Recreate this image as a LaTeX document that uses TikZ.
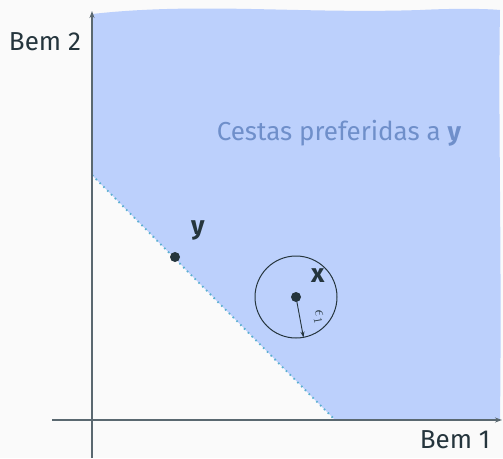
\documentclass[tikz,border=0pt]{standalone}
\usepackage{fontspec}
\setmainfont{Fira Sans}
\usetikzlibrary{arrows.meta}
\definecolor{bg}{HTML}{FAFAFA}
\definecolor{ink}{HTML}{25353D}
\definecolor{axis}{HTML}{5A6870}
\definecolor{pref}{HTML}{BCD0FC}
\definecolor{preftext}{HTML}{6F8FCA}
\definecolor{bound}{HTML}{5AAFD0}
\tikzset{
  axisline/.style={draw=axis, line width=1.2pt, -{Stealth[length=7pt,width=5pt]}},
  lbl/.style={font=\fontsize{26}{30}\selectfont, text=ink, inner sep=0pt},
  bundle/.style={circle, fill=ink, inner sep=0pt, minimum size=10pt},
}
\begin{document}
\begin{tikzpicture}[x=1pt,y=-1pt]
\useasboundingbox[fill=bg] (0,0) rectangle (503,458);
% preferred region
\fill[pref] (92,175) -- (92,14) .. controls (200,2) and (300,14) .. (420,10)
  .. controls (460,8) and (490,9) .. (500,10)
  .. controls (498,120) and (502,250) .. (500,420) -- (335,420) -- cycle;
\draw[bound, line width=1.8pt, dash pattern=on 1.6pt off 3.8pt] (92,175) -- (335,420);
% axes
\coordinate (xo) at (52,420);
\coordinate (xe) at (502,420);
\coordinate (yo) at (92,458);
\coordinate (ye) at (92,11);
\draw[axisline] (xo) -- (xe);
\draw[axisline] (yo) -- (ye);
\node[lbl] (b2) at (45,42) {Bem 2};
\node[lbl] (b1) at (455,440) {Bem 1};
\node[lbl, text=preftext] (ct) at (339,133) {Cestas preferidas a \textbf{y}};
% bundles
\node[bundle] (y) at (175,257) {};
\node[lbl] (yl) at (198,230) {\textbf{y}};
\node[bundle] (x) at (296,297) {};
\node[lbl] (xl) at (318,276) {\textbf{x}};
\draw[ink, line width=1pt] (x.center) circle[radius=41pt];
\coordinate (rim) at (303.5,337.5);
\draw[ink, line width=0.9pt, -{Stealth[length=6pt,width=4pt]}] (x.center) -- (rim);
\node[font=\fontsize{17}{20}\selectfont, text=ink, rotate=-80, inner sep=0pt] (eps) at (318.5,317) {$\epsilon_1$};
\end{tikzpicture}
\end{document}
